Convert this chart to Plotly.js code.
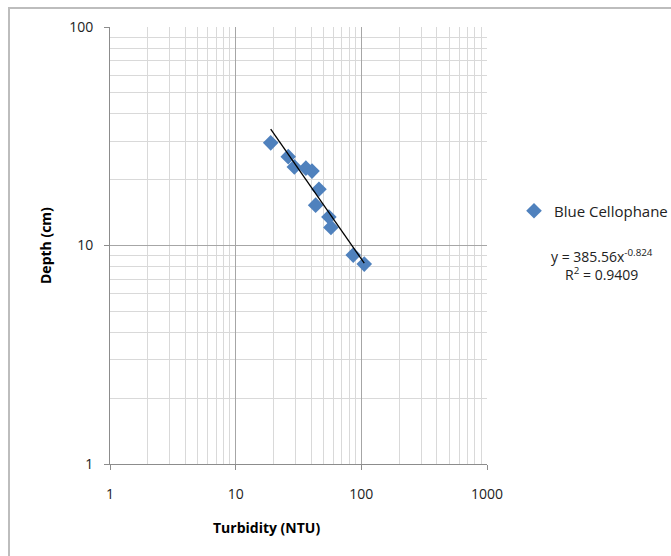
<!DOCTYPE html>
<html>
<head>
<meta charset="utf-8">
<script src="https://cdn.plot.ly/plotly-3.0.1.min.js"></script>
<style>
  html, body { margin: 0; padding: 0; background: #fff; }
  #wrap { position: relative; width: 671px; height: 556px; overflow: hidden; }
  #chart { width: 671px; height: 556px; }
  #frame { position: absolute; left: 8px; top: 7px; width: 700px; height: 600px;
           border: 2px solid #bdbdbd; pointer-events: none; }
</style>
</head>
<body>
<div id="wrap"><div id="chart"></div><div id="frame"></div></div>
<script>
// Data
const seriesName = "Blue Cellophane";
const turbidity = [19.0, 26.2, 29.3, 36.2, 40.5, 46.0, 43.3, 55.2, 57.3, 86.2, 105.5];
const depth     = [29.5, 25.5, 22.9, 22.6, 21.9, 18.1, 15.3, 13.5, 12.1, 9.04, 8.22];

// Trendline as reported on the chart
const trendCoef = 385.56;
const trendExp = -0.824;
const trendR2 = "0.9409";

const xTicks = [1, 10, 100, 1000];
const yTicks = [1, 10, 100];
const xTickText = ["1", "10", "100", "1000"];
const yTickText = ["1", "10", "100"];

const xMinor = [], yMinor = [];
for (let d = 1; d <= 100; d *= 10) for (let k = 2; k <= 9; k++) xMinor.push(k * d);
for (let d = 1; d <= 10; d *= 10) for (let k = 2; k <= 9; k++) yMinor.push(k * d);

const xMin = Math.min(...turbidity), xMax = Math.max(...turbidity);
const trendX = [xMin, xMax];
const trendY = trendX.map(v => trendCoef * Math.pow(v, trendExp));

const font = "'Open Sans', 'Noto Sans', sans-serif";

const traces = [
  {
    x: turbidity, y: depth, type: "scatter", mode: "markers", name: seriesName,
    marker: { symbol: "diamond", size: 12, color: "#4f81bd" }
  },
  {
    x: trendX, y: trendY, type: "scatter", mode: "lines", showlegend: false,
    line: { color: "#000", width: 1.3 }, hoverinfo: "skip"
  }
];

const axisCommon = {
  type: "log", showline: true, linecolor: "#8c8c8c", linewidth: 1,
  ticks: "outside", ticklen: 5, tickcolor: "#8c8c8c",
  gridcolor: "#a6a6a6", gridwidth: 1, zeroline: false, automargin: false,
  tickfont: { family: font, size: 14, color: "#222" },
  tickmode: "array", mirror: false
};

const layout = {
  width: 671, height: 556,
  margin: { l: 110, r: 184, t: 27, b: 92, autoexpand: false },
  paper_bgcolor: "#fff", plot_bgcolor: "#fff",
  font: { family: font, size: 14, color: "#222" },
  showlegend: true,
  legend: {
    x: (514 - 110) / 377, xanchor: "left", y: 0.579, yanchor: "middle",
    font: { family: font, size: 15, color: "#222" },
    bgcolor: "rgba(0,0,0,0)", borderwidth: 0, itemsizing: "constant"
  },
  xaxis: Object.assign({}, axisCommon, {
    range: [0, 3], tickvals: xTicks, ticktext: xTickText, ticklabelstandoff: 12,
    minor: { tickvals: xMinor, showgrid: true, gridcolor: "#d9d9d9", gridwidth: 1, ticklen: 0 }
  }),
  yaxis: Object.assign({}, axisCommon, {
    range: [0, 2], tickvals: yTicks, ticktext: yTickText, ticklabelstandoff: 8,
    minor: { tickvals: yMinor, showgrid: true, gridcolor: "#d9d9d9", gridwidth: 1, ticklen: 0 }
  }),
  annotations: [
    { xref: "paper", yref: "paper", x: (266 - 110) / 377, y: -(527 - 464) / 437,
      text: "<b>Turbidity (NTU)</b>", showarrow: false, xanchor: "center", yanchor: "middle",
      font: { family: font, size: 14, color: "#000" } },
    { xref: "paper", yref: "paper", x: -(110 - 45) / 377, y: (464 - 246) / 437,
      text: "<b>Depth (cm)</b>", showarrow: false, textangle: -90, xanchor: "center", yanchor: "middle",
      font: { family: font, size: 14, color: "#000" } },
    { xref: "paper", yref: "paper", x: (602 - 110) / 377, y: (464 - 265) / 437,
      text: "y = " + trendCoef + "x<sup>" + trendExp + "</sup><br>R<sup>2</sup> = " + trendR2,
      showarrow: false, align: "center",
      xanchor: "center", yanchor: "middle", font: { family: font, size: 14, color: "#222" } }
  ]
};

Plotly.newPlot("chart", traces, layout, { staticPlot: true, displayModeBar: false });
</script>
</body>
</html>
